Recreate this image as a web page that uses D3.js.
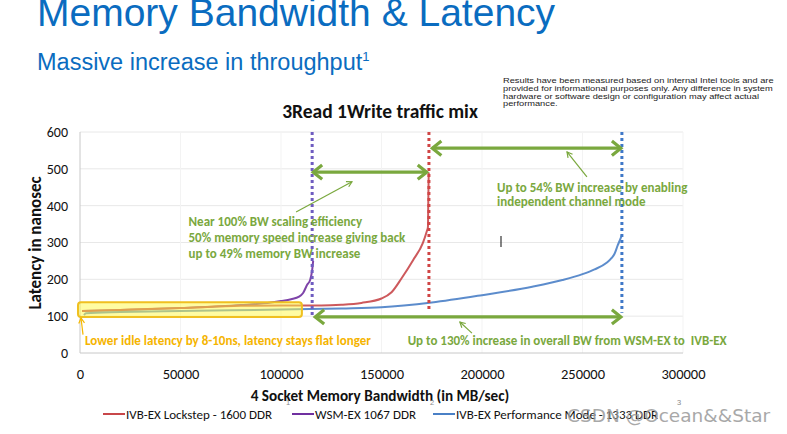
<!DOCTYPE html>
<html><head><meta charset="utf-8">
<script src="https://cdn.jsdelivr.net/npm/d3@7"></script>
<style>body{margin:0;background:#fff}svg{display:block}</style>
</head><body>
<svg id="chart" width="787" height="434"></svg>
<script>
// ---------- data ----------
const xTicks = [0, 50000, 100000, 150000, 200000, 250000, 300000];
const yTicks = [0, 100, 200, 300, 400, 500, 600];
const seriesNames = ["IVB-EX Lockstep - 1600 DDR", "WSM-EX 1067 DDR", "IVB-EX Performance Mode - 1333 DDR"];
const seriesColors = ["#c8474a", "#7030a0", "#4a80c6"];
const dotColors = ["#d04545", "#6f5cc0", "#3f78c8"];

// IVB-EX Lockstep - 1600 DDR
const lockstepBW  = [1000, 20000, 50000, 80000, 100000, 120000, 130000, 140000, 150000, 155000, 160000, 165700, 170600, 172500, 173100, 173300, 173500];
const lockstepLat = [114, 117, 122, 128, 129, 129, 131, 136, 148, 165, 203, 252, 299, 330, 342, 420, 490];
// WSM-EX 1067 DDR
const wsmBW  = [1000, 20000, 50000, 80000, 95000, 100000, 105000, 109000, 111000, 113000, 114500, 115500, 116000];
const wsmLat = [114, 117, 122, 130, 137, 141, 146, 153, 163, 185, 198, 225, 250];
// IVB-EX Performance Mode - 1333 DDR
const perfBW  = [2000, 3000, 20000, 50000, 100000, 130000, 150000, 175000, 200000, 225000, 240000, 250000, 256000, 262000, 264500, 266000, 267500, 268500, 269600];
const perfLat = [103, 108, 111, 114, 118, 121, 124, 137, 157, 180, 198, 214, 227, 245, 258, 270, 292, 305, 320];

// max-bandwidth markers (dotted verticals): x, bottom latency
const markerBW  = [173600, 115500, 269600];
const markerLow = [111, 98, 109];

// ---------- setup ----------
const svg = d3.select("#chart");
const W = 787, H = 434;
svg.append("rect").attr("width", W).attr("height", H).attr("fill", "#fff");
const x = d3.scaleLinear().domain([0, 300000]).range([80, 683]);
const y = d3.scaleLinear().domain([0, 600]).range([353, 132]);
const CAL = "Carlito, Lato, 'Open Sans', sans-serif";
const GREEN = "#7aa83e";

// slide header
svg.append("text").attr("x", 37).attr("y", 26).attr("fill", "#0a6cc0")
  .style("font-family", "'Liberation Sans', Arial, sans-serif").style("font-size", "39px")
  .text("Memory Bandwidth & Latency");
const sub = svg.append("text").attr("x", 37).attr("y", 70).attr("fill", "#0a6cc0")
  .style("font-family", "'Liberation Sans', Arial, sans-serif").style("font-size", "23.5px");
sub.append("tspan").text("Massive increase in throughput");
sub.append("tspan").attr("dy", -9).style("font-size", "13px").text("1");

const disclaimer = ["Results have been measured based on internal Intel tools and are",
  "provided for informational purposes only. Any difference in system",
  "hardware or software design or configuration may affect actual",
  "performance."];
svg.append("g").attr("transform", "translate(503,0) scale(1.16,1)")
  .selectAll("text").data(disclaimer).join("text")
  .attr("x", 0).attr("y", (d, i) => 83 + i * 7.8)
  .attr("fill", "#222").style("font-family", "'Liberation Sans', Arial, sans-serif")
  .style("font-size", "8px").text(d => d);

// chart title
svg.append("text").attr("x", 380).attr("y", 118).attr("text-anchor", "middle")
  .style("font-family", CAL).style("font-weight", "bold").style("font-size", "19.5px")
  .attr("fill", "#111").text("3Read 1Write traffic mix");

// gridlines
svg.append("g").selectAll("line").data(yTicks.slice(1)).join("line")
  .attr("x1", x(0)).attr("x2", x(300000)).attr("y1", d => y(d)).attr("y2", d => y(d))
  .attr("stroke", "#e8e8e8").attr("stroke-width", 1);
svg.append("g").selectAll("line").data(xTicks.slice(1)).join("line")
  .attr("x1", d => x(d)).attr("x2", d => x(d)).attr("y1", y(0)).attr("y2", y(600))
  .attr("stroke", "#f3f3f3").attr("stroke-width", 1);
// axes lines
svg.append("line").attr("x1", x(0)).attr("x2", x(0)).attr("y1", y(0)).attr("y2", y(600)).attr("stroke", "#c8c8c8");
svg.append("line").attr("x1", x(0)).attr("x2", x(300000)).attr("y1", y(0)).attr("y2", y(0)).attr("stroke", "#c8c8c8");

// tick labels via axes
const yAxis = svg.append("g").attr("transform", `translate(${x(0)},0)`)
  .call(d3.axisLeft(y).tickValues(yTicks).tickSize(0).tickPadding(12).tickFormat(d3.format("d")));
yAxis.select(".domain").remove();
yAxis.selectAll("text").style("font-family", CAL).style("font-size", "14px").attr("fill", "#111");
const xAxis = svg.append("g").attr("transform", `translate(0,${y(0)})`)
  .call(d3.axisBottom(x).tickValues(xTicks).tickSize(0).tickPadding(16).tickFormat(d3.format("d")));
xAxis.select(".domain").remove();
xAxis.selectAll("text").style("font-family", CAL).style("font-size", "14.5px").attr("fill", "#111");

// axis titles
svg.append("text").attr("transform", "translate(41,243) rotate(-90)").attr("text-anchor", "middle")
  .style("font-family", CAL).style("font-weight", "bold").style("font-size", "17px").attr("fill", "#111")
  .text("Latency in nanosec");
svg.append("text").attr("x", 380).attr("y", 401).attr("text-anchor", "middle")
  .style("font-family", CAL).style("font-weight", "bold").style("font-size", "15.2px").attr("fill", "#111")
  .text("4 Socket Memory Bandwidth (in MB/sec)");

// series lines
const series = [
  {bw: wsmBW, lat: wsmLat, c: seriesColors[1]},
  {bw: lockstepBW, lat: lockstepLat, c: seriesColors[0]},
  {bw: perfBW, lat: perfLat, c: seriesColors[2]}
];
const line = d3.line().x(d => x(d[0])).y(d => y(d[1])).curve(d3.curveMonotoneX);
svg.append("g").selectAll("path").data(series).join("path")
  .attr("d", s => line(s.bw.map((b, i) => [b, s.lat[i]])))
  .attr("fill", "none").attr("stroke", s => s.c).attr("stroke-width", 2).attr("opacity", 0.9);

// dotted max-BW markers
svg.append("g").selectAll("line").data(markerBW).join("line")
  .attr("x1", d => x(d)).attr("x2", d => x(d)).attr("y1", y(600)).attr("y2", (d, i) => y(markerLow[i]))
  .attr("stroke", (d, i) => dotColors[i]).attr("stroke-width", 3).attr("stroke-dasharray", "3,3");

// highlight box
svg.append("rect").attr("x", x(-1000)).attr("y", y(138)).attr("width", x(110400) - x(-1000)).attr("height", y(98) - y(138))
  .attr("rx", 3).attr("fill", "rgba(255,250,70,0.5)").attr("stroke", "#f0c020").attr("stroke-width", 2);

// arrows
function head(g, px, py, dir, size, color, w) {
  g.append("polyline")
    .attr("points", `${px - dir * size},${py - size * 0.8} ${px},${py} ${px - dir * size},${py + size * 0.8}`)
    .attr("fill", "none").attr("stroke", color).attr("stroke-width", w).attr("stroke-linejoin", "miter");
}
const bigArrows = [
  {x0: 115500, x1: 173000, lat: 491},
  {x0: 174800, x1: 269600, lat: 556},
  {x0: 116500, x1: 269600, lat: 98}
];
const ga = svg.append("g");
bigArrows.forEach(a => {
  ga.append("line").attr("x1", x(a.x0) + 1).attr("x2", x(a.x1) - 1).attr("y1", y(a.lat)).attr("y2", y(a.lat))
    .attr("stroke", GREEN).attr("stroke-width", 3.2);
  head(ga, x(a.x0) + 1, y(a.lat), -1, 9, GREEN, 3.2);
  head(ga, x(a.x1) - 1, y(a.lat), 1, 9, GREEN, 3.2);
});
// thin pointers: from -> to
const pointers = [
  {bx: 107500, bl: 383, tx: 135300, tl: 465, c: GREEN},
  {bx: 252200, bl: 478, tx: 242300, tl: 546, c: GREEN},
  {bx: 195000, bl: 54, tx: 189000, tl: 84, c: GREEN},
  {bx: 1500, bl: 50, tx: 500, tl: 95, c: "#f5b800"}
];
pointers.forEach(p => {
  const x0 = x(p.bx), y0 = y(p.bl), x1 = x(p.tx), y1 = y(p.tl);
  ga.append("line").attr("x1", x0).attr("y1", y0).attr("x2", x1).attr("y2", y1)
    .attr("stroke", p.c).attr("stroke-width", 1.2);
  const ang = Math.atan2(y1 - y0, x1 - x0), s = 6;
  ga.append("polyline").attr("points",
    `${x1 - s * Math.cos(ang - 0.5)},${y1 - s * Math.sin(ang - 0.5)} ${x1},${y1} ${x1 - s * Math.cos(ang + 0.5)},${y1 - s * Math.sin(ang + 0.5)}`)
    .attr("fill", "none").attr("stroke", p.c).attr("stroke-width", 1.2);
});

// annotation texts
const notes = [
  {bx: 54000, lat: 344, t: "Near 100% BW scaling efficiency", c: GREEN},
  {bx: 54000, lat: 302, t: "50% memory speed increase giving back", c: GREEN},
  {bx: 54000, lat: 259, t: "up to 49% memory BW increase", c: GREEN},
  {bx: 207500, lat: 438, t: "Up to 54% BW increase by enabling", c: GREEN},
  {bx: 207500, lat: 398, t: "independent channel mode", c: GREEN},
  {bx: 163000, lat: 23, t: "Up to 130% increase in overall BW from WSM-EX to  IVB-EX", c: GREEN},
  {bx: 2500, lat: 23, t: "Lower idle latency by 8-10ns, latency stays flat longer", c: "#f5b400"}
];
svg.append("g").selectAll("text").data(notes).join("text")
  .attr("x", d => x(d.bx)).attr("y", d => y(d.lat)).attr("fill", d => d.c)
  .style("font-family", CAL).style("font-weight", "bold").style("font-size", "13px")
  .style("white-space", "pre").text(d => d.t);

// cursor artifact
svg.append("line").attr("x1", 501).attr("x2", 501).attr("y1", 236).attr("y2", 247).attr("stroke", "#333").attr("stroke-width", 1.2);

// legend
const legX = [103, 292, 433];
const lg = svg.append("g");
seriesNames.forEach((n, i) => {
  lg.append("line").attr("x1", legX[i]).attr("x2", legX[i] + 22).attr("y1", 414).attr("y2", 414)
    .attr("stroke", seriesColors[i]).attr("stroke-width", 2);
  lg.append("text").attr("x", legX[i] + 23).attr("y", 418.5).style("font-family", CAL)
    .style("font-size", "13px").attr("fill", "#111").text(n);
});
const supX = [286, 430, 677];
svg.append("g").selectAll("text").data(["1", "2", "3"]).join("text")
  .attr("x", (d, i) => supX[i]).attr("y", 405).attr("fill", "#888")
  .style("font-family", "'Liberation Sans', Arial, sans-serif").style("font-size", "7.5px").text(d => d);

// watermark
svg.append("text").attr("x", 567).attr("y", 422).attr("fill", "#9a9a9a").attr("opacity", 0.85)
  .style("font-family", "'DejaVu Sans', sans-serif").style("font-size", "18.5px").text("CSDN @Ocean&&Star");
</script>
</body></html>
